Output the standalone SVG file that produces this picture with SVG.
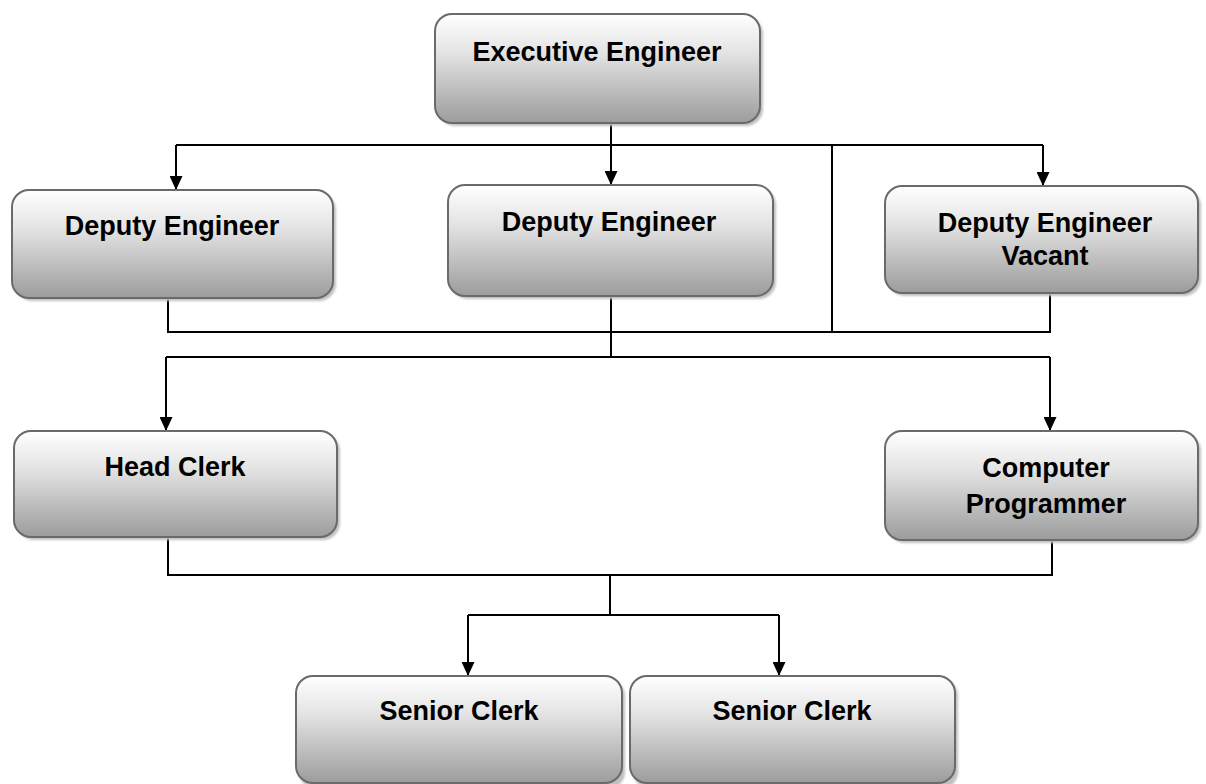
<svg xmlns="http://www.w3.org/2000/svg" width="1206" height="784" viewBox="0 0 1206 784">
<defs>
<linearGradient id="g" x1="0" y1="0" x2="0" y2="1">
<stop offset="0" stop-color="#ffffff"/>
<stop offset="0.35" stop-color="#e4e4e4"/>
<stop offset="1" stop-color="#9c9c9c"/>
</linearGradient>
<filter id="sh" x="-10%" y="-10%" width="130%" height="130%">
<feGaussianBlur stdDeviation="1.2"/>
</filter>
<marker id="ah" markerUnits="userSpaceOnUse" markerWidth="14" markerHeight="13" refX="14" refY="6.5" orient="auto" viewBox="0 0 14 13">
<path d="M0,0 L14,6.5 L0,13 z" fill="#000"/>
</marker>
<style>
.box{fill:url(#g);stroke:#6a6a6a;stroke-width:2}
.shadow{fill:#c0c0c0;filter:url(#sh)}
.t{font-family:"Liberation Sans",Arial,sans-serif;font-weight:bold;font-size:27px;fill:#000;text-anchor:middle}
.c{fill:none;stroke:#000;stroke-width:2}
.a{fill:none;stroke:#000;stroke-width:2;marker-end:url(#ah)}
</style>
</defs>
<rect width="1206" height="784" fill="#fff"/>
<g id="connectors">
<path class="c" d="M176,145 H1043"/>
<path class="a" d="M611,123 V185"/>
<path class="a" d="M176,145 V190"/>
<path class="a" d="M1043,145 V186"/>
<path class="c" d="M832,145 V332"/>
<path class="c" d="M168,298 V332 H1050 V293"/>
<path class="c" d="M611,296 V357"/>
<path class="c" d="M166,357 H1050"/>
<path class="a" d="M166,357 V431"/>
<path class="a" d="M1050,357 V431"/>
<path class="c" d="M168,537 V575 H1052 V540"/>
<path class="c" d="M610,575 V615"/>
<path class="c" d="M468,615 H779"/>
<path class="a" d="M468,615 V676"/>
<path class="a" d="M779,615 V676"/>
</g>
<g id="n-exec">
<rect class="shadow" x="438" y="17" width="325" height="109" rx="17"/>
<rect class="box" x="435" y="14" width="325" height="109" rx="17"/>
<text class="t" x="597" y="61">Executive Engineer</text>
</g>
<g id="n-dep1">
<rect class="shadow" x="15" y="193" width="321" height="108" rx="17"/>
<rect class="box" x="12" y="190" width="321" height="108" rx="17"/>
<text class="t" x="172" y="235">Deputy Engineer</text>
</g>
<g id="n-dep2">
<rect class="shadow" x="451" y="188" width="325" height="111" rx="17"/>
<rect class="box" x="448" y="185" width="325" height="111" rx="17"/>
<text class="t" x="609" y="231">Deputy Engineer</text>
</g>
<g id="n-dep3">
<rect class="shadow" x="888" y="189" width="313" height="107" rx="17"/>
<rect class="box" x="885" y="186" width="313" height="107" rx="17"/>
<text class="t" x="1045" y="232">Deputy Engineer</text>
<text class="t" x="1045" y="265">Vacant</text>
</g>
<g id="n-head">
<rect class="shadow" x="17" y="434" width="323" height="106" rx="17"/>
<rect class="box" x="14" y="431" width="323" height="106" rx="17"/>
<text class="t" x="175" y="476">Head Clerk</text>
</g>
<g id="n-prog">
<rect class="shadow" x="888" y="434" width="313" height="109" rx="17"/>
<rect class="box" x="885" y="431" width="313" height="109" rx="17"/>
<text class="t" x="1046" y="477">Computer</text>
<text class="t" x="1046" y="513">Programmer</text>
</g>
<g id="n-sc1">
<rect class="shadow" x="299" y="679" width="326" height="110" rx="17"/>
<rect class="box" x="296" y="676" width="326" height="107" rx="17"/>
<text class="t" x="459" y="720">Senior Clerk</text>
</g>
<g id="n-sc2">
<rect class="shadow" x="633" y="679" width="325" height="110" rx="17"/>
<rect class="box" x="630" y="676" width="325" height="107" rx="17"/>
<text class="t" x="792" y="720">Senior Clerk</text>
</g>
</svg>
